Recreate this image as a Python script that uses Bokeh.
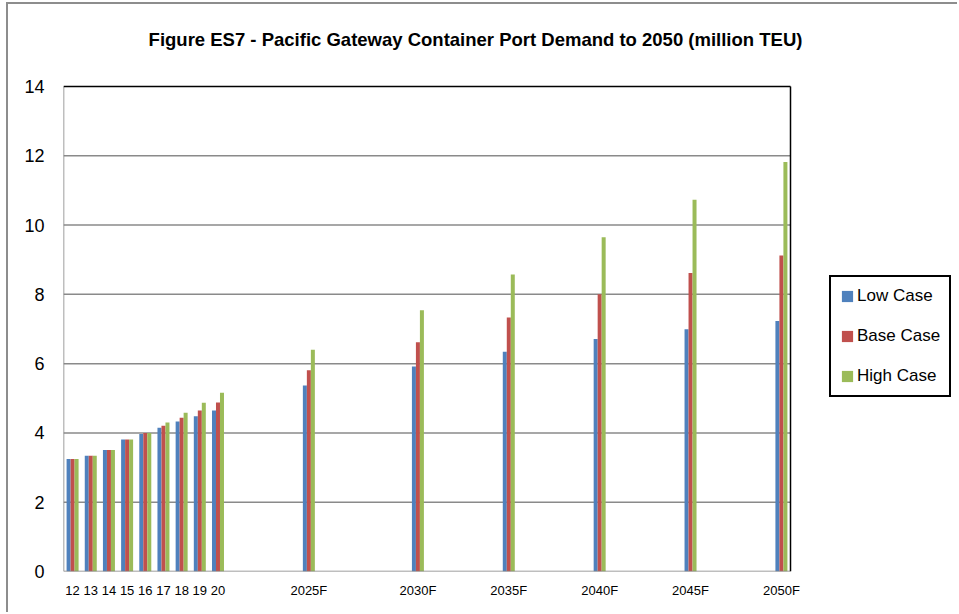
from bokeh.plotting import figure
from bokeh.models import (ColumnDataSource, Range1d, FixedTicker, Legend, LegendItem, Label)
from bokeh.transform import dodge
from bokeh.embed import file_html
from bokeh.resources import INLINE

# Pacific Gateway container demand, million TEU
years = ["12", "13", "14", "15", "16", "17", "18", "19", "20",
         "2025F", "2030F", "2035F", "2040F", "2045F", "2050F"]
low_case = [3.25, 3.34, 3.51, 3.81, 3.97, 4.15, 4.33, 4.48, 4.65,
            5.37, 5.92, 6.34, 6.71, 6.99, 7.23]
base_case = [3.25, 3.34, 3.51, 3.81, 4.00, 4.21, 4.44, 4.65, 4.88,
             5.81, 6.62, 7.33, 8.00, 8.62, 9.12]
high_case = [3.25, 3.34, 3.51, 3.81, 4.00, 4.30, 4.58, 4.87, 5.16,
             6.40, 7.54, 8.57, 9.65, 10.73, 11.82]
y_ticks = [0, 2, 4, 6, 8, 10, 12, 14]
# empty category slots placed before each forecast year on the axis
blank_slots_before = {"2025F": 4, "2030F": 5, "2035F": 4, "2040F": 4,
                      "2045F": 4, "2050F": 4}

series_names = ["Low Case", "Base Case", "High Case"]
series_colors = ["#4F81BD", "#C0504D", "#9BBB59"]

FONT = "Liberation Sans"

# slot index of every labelled category
positions = []
slot = 0
for y in years:
    slot += blank_slots_before.get(y, 0)
    positions.append(slot)
    slot += 1
n_slots = slot
x_lo, x_hi = -0.5, n_slots - 0.5
y_top = y_ticks[-1]

# pixel geometry of the chart box inside the canvas
W, H = 951, 610
left_px, bottom_px = 55, 43
box_w, box_h = 727, 485
px_x = box_w / n_slots
px_y = box_h / y_top

source = ColumnDataSource(dict(pos=positions, year=years, low=low_case,
                               base=base_case, high=high_case))

p = figure(x_range=Range1d(x_lo, x_lo + (W - left_px) / px_x),
           y_range=Range1d(0, (H - bottom_px) / px_y),
           width=W, height=H,
           output_backend="svg", toolbar_location=None,
           min_border_left=left_px, min_border_right=0,
           min_border_top=0, min_border_bottom=bottom_px)

p.styles = {"margin-left": "6px", "margin-top": "2px",
            "border-left": "2px solid #8d8d8d", "border-top": "2px solid #8d8d8d"}
p.outline_line_color = None
p.background_fill_color = "white"
p.border_fill_color = "white"
p.xgrid.grid_line_color = None
p.ygrid.grid_line_color = None

# horizontal gridlines inside the chart box
grid_y = y_ticks[1:-1]
p.segment(x0=[x_lo] * len(grid_y), x1=[x_hi] * len(grid_y), y0=grid_y, y1=grid_y,
          line_color="#8a8a8a", line_width=1.5)

bw = 0.22
renderers = []
for off, col, color in zip([-bw, 0, bw], ["low", "base", "high"], series_colors):
    r = p.vbar(x=dodge("pos", off), top=col, width=bw, bottom=0,
               source=source, fill_color=color, line_color=None)
    renderers.append(r)

# box: grey value/category axes, black top and right edges
p.segment(x0=[x_lo, x_lo], x1=[x_lo, x_hi], y0=[0, 0], y1=[y_top, 0],
          line_color="#7f7f7f", line_width=1.5)
p.segment(x0=[x_lo, x_hi], x1=[x_hi, x_hi], y0=[y_top, 0], y1=[y_top, y_top],
          line_color="black", line_width=1.5)

# title
title = Label(x=412, y=532, x_units="screen", y_units="screen",
              text="Figure ES7 - Pacific Gateway Container Port Demand to 2050 (million TEU)",
              text_font=FONT, text_font_style="bold", text_font_size="18.5px",
              text_align="center", text_baseline="middle", text_color="black")
p.add_layout(title)

# y axis
p.yaxis.ticker = FixedTicker(ticks=y_ticks)
p.yaxis.major_label_text_font = FONT
p.yaxis.major_label_text_font_size = "18px"
p.yaxis.major_label_text_color = "black"
p.yaxis.major_label_standoff = 13
p.yaxis.major_tick_line_color = None
p.yaxis.minor_tick_line_color = None
p.yaxis.axis_line_color = None

# x axis
p.xaxis.ticker = FixedTicker(ticks=positions)
p.xaxis.major_label_overrides = {pos: lab for pos, lab in zip(positions, years)}
p.xaxis.major_label_text_font = FONT
p.xaxis.major_label_text_font_size = "13px"
p.xaxis.major_label_text_color = "black"
p.xaxis.major_label_standoff = 5
p.xaxis.major_tick_line_color = None
p.xaxis.minor_tick_line_color = None
p.xaxis.axis_line_color = None

legend = Legend(items=[LegendItem(label=n, renderers=[r]) for n, r in zip(series_names, renderers)],
                location=(766, 174),
                border_line_color="black", border_line_width=2, border_line_alpha=1,
                background_fill_color="white", background_fill_alpha=1,
                label_text_font=FONT, label_text_font_size="17px",
                label_text_color="black",
                glyph_width=14, glyph_height=14, label_height=20,
                spacing=20, padding=9, margin=0, label_standoff=3)
p.add_layout(legend)

open("out.html", "w").write(file_html(p, INLINE))
